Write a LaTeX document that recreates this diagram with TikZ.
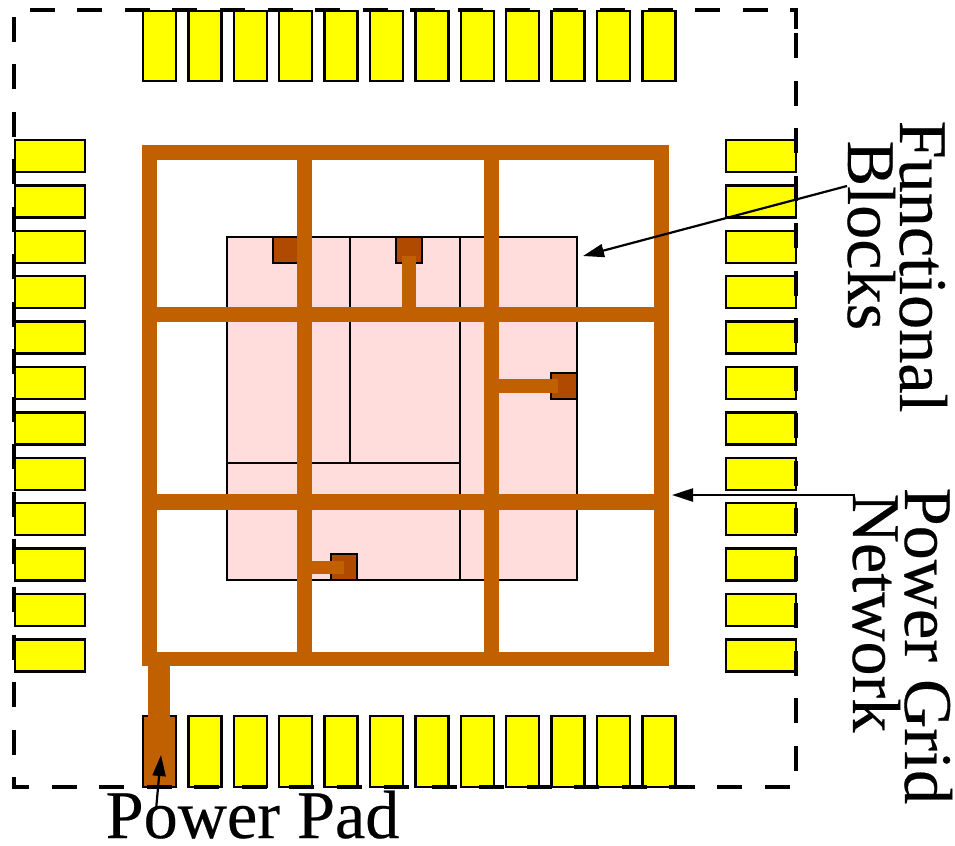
\documentclass[tikz,border=0pt]{standalone}
\usepackage{fontspec}
\newfontfamily\lblfont[FakeBold=0.3]{Liberation Serif}
\usetikzlibrary{arrows.meta}
\definecolor{pgyellow}{RGB}{255,255,0}
\definecolor{pgwire}{RGB}{192,96,0}
\definecolor{pgvia}{RGB}{176,74,0}
\definecolor{pgblock}{RGB}{255,221,221}
\tikzset{
  pad/.style={fill=pgyellow, draw=black, line width=0.025cm},
  wire/.style={fill=pgwire},
  via/.style={fill=pgvia, draw=black, line width=0.016cm},
  blockline/.style={line width=0.015cm},
  lbl/.style={font=\lblfont\fontsize{19.4}{22}\selectfont, inner sep=0pt, anchor=base west},
  callout/.style={-{Triangle[length=0.21cm,width=0.13cm]}, line width=0.022cm}
}

\begin{document}
\begin{tikzpicture}[x=0.01cm, y=-0.01cm]
\useasboundingbox (0,0) rectangle (955,845);
\fill[white] (0,0) rectangle (955,845);

% pads, top and bottom
\foreach \i in {0,...,11}{
  \draw[pad] (143+45.4*\i,11) rectangle +(33,70);
  \ifnum\i>0 \draw[pad] (143+45.4*\i,716) rectangle +(33,71); \fi
}
% pads, left and right
\foreach \i in {0,...,11}{
  \draw[pad] (15,140+45.4*\i) rectangle +(70,32);
  \draw[pad] (726,140+45.4*\i) rectangle +(70,32);
}
% power pad
\draw[wire, draw=black, line width=0.025cm] (143,716) rectangle (176,787);

% blocks
\fill[pgblock] (227,237) rectangle (577,580);
\draw[blockline] (227,237) rectangle (577,580);
\draw[blockline] (350,237) -- (350,463);
\draw[blockline] (227,463) -- (460,463);
\draw[blockline] (460,237) -- (460,580);

% vias
\draw[via] (273,237) rectangle (299,263);
\draw[via] (396,237) rectangle (422,263);
\draw[via] (551,373) rectangle (577,399);
\draw[via] (331,554) rectangle (357,580);

% grid
\foreach \x in {142,297,484,654}{
  \fill[wire] (\x,145) rectangle +(14.5,520);
}
\foreach \y/\h in {145/15,307/15,494/15.5,652/13.5}{
  \fill[wire] (142,\y) rectangle (668.5,\y+\h);
}
% stubs
\fill[wire] (148,652) rectangle (170,730);
\fill[wire] (402,256) rectangle (416,307);
\fill[wire] (499,379) rectangle (558,393);
\fill[wire] (312,561) rectangle (344,574);

% chip outline
\draw[line width=0.048cm, dash pattern=on 0.25cm off 0.225cm]
  (796,33) -- (796,787) -- (14,787) -- (14,10) -- (796,10) -- cycle;

% labels
\node[lbl, rotate=-90] (functional) at (900,120) {Functional};
\node[lbl, rotate=-90] (blocks) at (848,140) {Blocks};
\node[lbl, rotate=-90] (powergrid) at (905,487) {Power Grid};
\node[lbl, rotate=-90] (network) at (853,493) {Network};
\node[lbl] (powerpad) at (105,838) {Power Pad};

% callouts
\coordinate (blockstail) at (847,186);
\coordinate (blockstip) at (583,256);
\coordinate (gridtail) at (855,495);
\coordinate (gridtip) at (672,495);
\coordinate (padtail) at (156,810);
\coordinate (padtip) at (161,755);
\draw[callout] (blockstail) -- (blockstip);
\draw[callout] (gridtail) -- (gridtip);
\draw[callout] (padtail) -- (padtip);
\end{tikzpicture}
\end{document}
